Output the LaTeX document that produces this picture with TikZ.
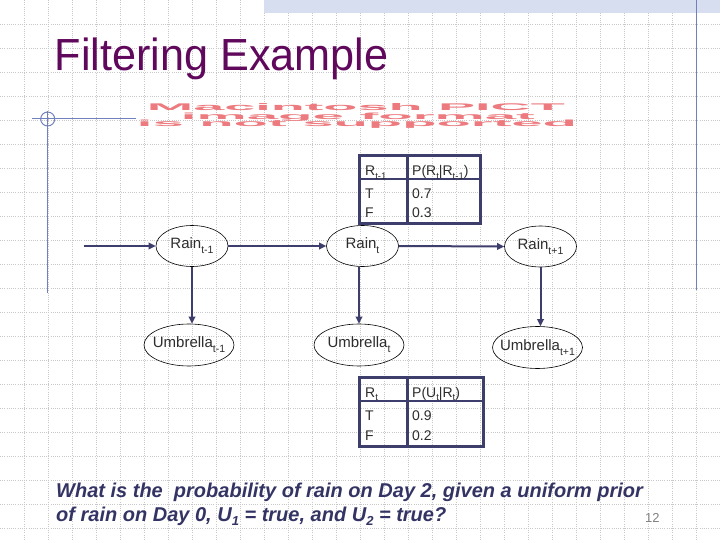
\documentclass[tikz,border=0pt]{standalone}
\usepackage{fontspec}
\usepackage{graphicx}
\setmainfont{Liberation Sans}
\newfontfamily\titlefont[FakeStretch=0.96]{Liberation Sans}
\usetikzlibrary{shapes.geometric,arrows.meta}
\definecolor{navy}{RGB}{62,62,108}
\definecolor{qnavy}{RGB}{52,52,100}
\definecolor{titlepurple}{RGB}{96,8,92}
\definecolor{gridgray}{RGB}{200,200,200}
\definecolor{band}{RGB}{214,222,240}
\definecolor{deco}{RGB}{112,128,188}
\definecolor{pictred}{RGB}{236,122,126}
\definecolor{nodetext}{RGB}{45,45,45}
\newcommand\nsub[1]{\raisebox{-5pt}{\fontsize{10.5}{10.5}\selectfont #1}}
\newcommand\tsub[1]{\raisebox{-3.5pt}{\fontsize{9.5}{9.5}\selectfont #1}}
\newcommand\qsub[1]{\raisebox{-4pt}{\fontsize{13}{13}\selectfont #1}}
\newcommand\zw[1]{\makebox[0pt][c]{#1}}
\tikzset{
  gridline/.style={draw=gridgray, line width=0.8pt, dash pattern=on 1pt off 1.2pt},
  decoline/.style={draw=deco, line width=1pt},
  rainnode/.style={ellipse, draw=black, line width=0.6pt, minimum width=72pt, minimum height=41pt, inner sep=0pt, font=\fontsize{15}{15}\selectfont, text=nodetext},
  umbnode/.style={rainnode, minimum width=90pt, minimum height=42pt},
  arr/.style={draw=navy, line width=2pt, -{Triangle[length=7pt,width=6.5pt]}},
  tabframe/.style={draw=navy, line width=3pt},
  tabrule/.style={draw=navy, line width=2pt},
  tabtext/.style={anchor=base west, inner sep=0pt, font=\fontsize{14}{14}\selectfont, text=nodetext},
  pict/.style={anchor=base, inner sep=0pt, text=pictred},
  qtext/.style={anchor=base west, inner sep=0pt, font=\fontsize{20}{20}\selectfont\bfseries\itshape, text=qnavy},
}
\begin{document}
\begin{tikzpicture}[x=1pt,y=-1pt]
\useasboundingbox (0,0) rectangle (720,540);
\fill[white] (0,0) rectangle (720,540);
% grid
\foreach \i in {1,...,29} \draw[gridline] (24*\i,0) -- (24*\i,540);
\foreach \j in {1,...,22} \draw[gridline] (0,24*\j) -- (720,24*\j);
% top band
\fill[band] (264,0) rectangle (720,13);
% decorations
\draw[decoline] (696,0) -- (696,290);
\draw[decoline] (32,119) -- (136,119);
\draw[decoline] (47.7,111) -- (47.7,293);
\draw[decoline] (47.7,119) circle (7pt);
% title
\node[anchor=base west, inner sep=0pt, text=titlepurple, font=\titlefont\fontsize{45}{45}\selectfont] (title) at (54.5,71) {Filtering Example};
% PICT placeholder
\node[pict] (pict1) at (356,111) {\resizebox{418pt}{7pt}{\bfseries Macintosh PICT}};
\node[pict] (pict2) at (358,119.5) {\resizebox{354pt}{6.5pt}{\bfseries image format}};
\node[pict] (pict3) at (357,127) {\resizebox{440pt}{6.5pt}{\bfseries is not supported}};
% CPT 1
\draw[tabframe] (359,156) rectangle (480,224);
\draw[tabframe] (407,156) -- (407,224);
\draw[tabrule] (359,179) -- (480,179);
\node[tabtext] (h11) at (365,176) {R\tsub{t-1}};
\node[tabtext] (h12) at (412,176) {P(R\tsub{t}|R\tsub{t-1})};
\node[tabtext] (c11) at (365,199) {T};
\node[tabtext] (c12) at (412,199) {0.7};
\node[tabtext] (c21) at (365,218) {F};
\node[tabtext] (c22) at (412,218) {0.3};
% CPT 2
\draw[tabframe] (359,377) rectangle (483,446);
\draw[tabframe] (407,377) -- (407,446);
\draw[tabrule] (359,401) -- (483,401);
\node[tabtext] (g11) at (365,397) {R\tsub{t}};
\node[tabtext] (g12) at (412,397) {P(U\tsub{t}|R\tsub{t})};
\node[tabtext] (d11) at (365,420) {T};
\node[tabtext] (d12) at (412,420) {0.9};
\node[tabtext] (d21) at (365,440) {F};
\node[tabtext] (d22) at (412,440) {0.2};
% nodes
\node[rainnode] (rtm) at (192,246) {\zw{Rain\nsub{t-1}}};
\node[rainnode] (rt) at (362.5,246) {\zw{Rain\nsub{t}}};
\node[rainnode] (rtp) at (540.5,246.5) {\zw{Rain\nsub{t+1}}};
\node[umbnode] (um1) at (189,345) {\zw{Umbrella\nsub{t-1}}};
\node[umbnode] (um2) at (359,345) {\zw{Umbrella\nsub{t}}};
\node[umbnode] (um3) at (537.5,347.5) {\zw{Umbrella\nsub{t+1}}};
% connectors
\coordinate (in) at (84,246);
\draw[arr] (in) -- (rtm.west);
\draw[arr] (rtm.east) -- (rt.west);
\draw[arr] (rt.east) -- (rtp.west);
\draw[arr] (rtm.south) -- (rtm.south |- um1.north);
\draw[arr] (rt.south -| um2.north) -- (um2.north);
\draw[arr] (rtp.south) -- (rtp.south |- um3.north);
% question
\node[qtext] (q1) at (56,497) {What is the\ \ probability of rain on Day 2, given a uniform prior};
\node[qtext] (q2) at (56,521) {of rain on Day 0, U\qsub{1} = true, and U\qsub{2} = true?};
\node[anchor=base west, inner sep=0pt, font=\fontsize{13}{13}\selectfont, text=gray] (pg) at (645,522) {12};
\end{tikzpicture}
\end{document}
